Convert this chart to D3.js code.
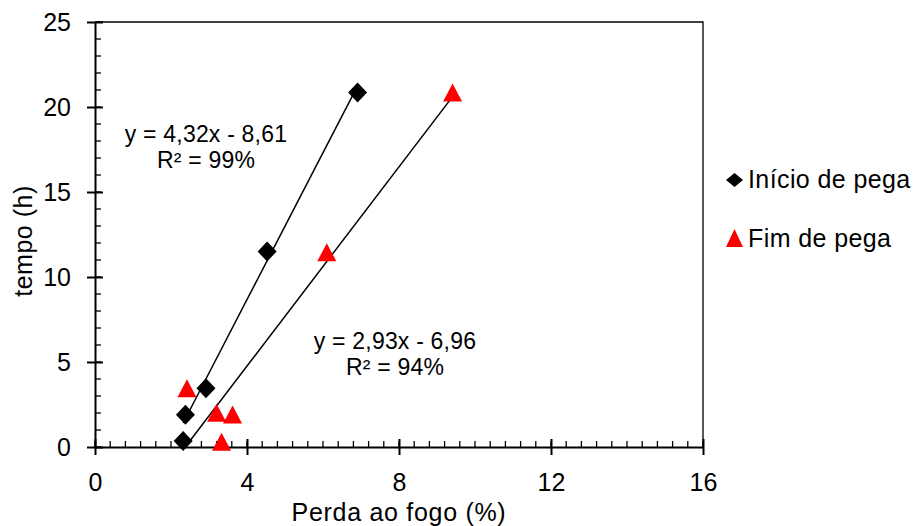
<!DOCTYPE html>
<html>
<head>
<meta charset="utf-8">
<script src="https://cdn.jsdelivr.net/npm/d3@7"></script>
<style>
  body { margin: 0; background: #fff; }
  text { font-family: "Liberation Sans", Arial, sans-serif; fill: #000; }
</style>
</head>
<body>
<div id="chart"></div>
<script>
// data
const inicioX = [2.32, 2.38, 2.92, 4.53, 6.91]
const inicioY = [0.35, 1.9, 3.45, 11.5, 20.85]
const fimX = [2.42, 3.2, 3.62, 3.33, 6.1, 9.41]
const fimY = [3.4, 1.95, 1.85, 0.25, 11.4, 20.8]
const seriesNames = ['Início de pega', 'Fim de pega']
const fitCoef = [[4.32, -8.61], [2.93, -6.96]]
const fitLabels = [['y = 4,32x - 8,61', 'R² = 99%'], ['y = 2,93x - 6,96', 'R² = 94%']]
const xTicks = [0, 4, 8, 12, 16]
const yTicks = [0, 5, 10, 15, 20, 25]

const width = 915
const height = 526
const margin = {top: 22, right: 212, bottom: 79, left: 95}
const chartWidth = width - margin.left - margin.right
const chartHeight = height - margin.top - margin.bottom
const fontFamily = '"Liberation Sans", Arial, sans-serif'

const svg = d3.select('#chart')
  .append('svg')
    .attr('width', width)
    .attr('height', height)
  .append('g')
    .attr('transform', 'translate(' + margin.left + ',' + margin.top + ')')

const xScale = d3.scaleLinear().domain([0, 16]).range([0, chartWidth])
const yScale = d3.scaleLinear().domain([0, 25]).range([chartHeight, 0])

// frame (top and right)
svg.append('path')
  .attr('d', 'M0,0H' + chartWidth + 'V' + chartHeight)
  .attr('fill', 'none')
  .attr('stroke', '#000')
  .attr('stroke-width', 1.3)

// minor ticks, pointing inward
const xMinor = d3.range(0, 16.001, 0.4)
const yMinor = d3.range(0, 25.001, 1)
svg.append('g').selectAll('line')
  .data(xMinor)
  .join('line')
    .attr('x1', d => xScale(d)).attr('x2', d => xScale(d))
    .attr('y1', chartHeight).attr('y2', chartHeight - 6)
    .attr('stroke', '#000').attr('stroke-width', 1.3)
svg.append('g').selectAll('line')
  .data(yMinor)
  .join('line')
    .attr('x1', 0).attr('x2', 6)
    .attr('y1', d => yScale(d)).attr('y2', d => yScale(d))
    .attr('stroke', '#000').attr('stroke-width', 1.3)

// axes
const xAxis = svg.append('g')
  .attr('transform', 'translate(0,' + chartHeight + ')')
  .call(d3.axisBottom(xScale).tickValues(xTicks).tickSize(8).tickSizeOuter(0))
xAxis.selectAll('.tick line').attr('y1', -8).attr('stroke-width', 2)
xAxis.select('.domain').attr('stroke-width', 2)
xAxis.selectAll('.tick text')
  .attr('y', 0)
  .attr('dy', 44)
  .style('font-size', '25px')
  .style('font-family', fontFamily)

const yAxis = svg.append('g')
  .call(d3.axisLeft(yScale).tickValues(yTicks).tickSize(8).tickSizeOuter(0))
yAxis.selectAll('.tick line').attr('x1', 8).attr('stroke-width', 2)
yAxis.select('.domain').attr('stroke-width', 2)
yAxis.selectAll('.tick text')
  .attr('x', -24)
  .attr('dy', '0.34em')
  .style('font-size', '25px')
  .style('font-family', fontFamily)

// axis titles
svg.append('text')
  .attr('x', chartWidth / 2)
  .attr('y', 521 - margin.top)
  .attr('text-anchor', 'middle')
  .style('font-size', '25px')
  .style('letter-spacing', '0.7px')
  .text('Perda ao fogo (%)')

svg.append('text')
  .attr('transform', 'translate(' + (32 - margin.left) + ',' + (241 - margin.top) + ') rotate(-90)')
  .attr('text-anchor', 'middle')
  .style('font-size', '25px')
  .style('letter-spacing', '0.5px')
  .text('tempo (h)')

// regression lines
const seriesX = [inicioX, fimX]
seriesX.forEach((xs, i) => {
  const [a, b] = fitCoef[i]
  const x0 = d3.min(xs)
  const x1 = d3.max(xs)
  svg.append('line')
    .attr('x1', xScale(x0)).attr('y1', yScale(a * x0 + b))
    .attr('x2', xScale(x1)).attr('y2', yScale(a * x1 + b))
    .attr('stroke', '#000')
    .attr('stroke-width', 1.5)
})

// markers
const diamond = 'M0,-10L9.5,0L0,10L-9.5,0Z'
const triangle = 'M0,-10L9.5,8L-9.5,8Z'

svg.append('g').selectAll('path')
  .data(d3.zip(fimX, fimY))
  .join('path')
    .attr('transform', d => 'translate(' + xScale(d[0]) + ',' + yScale(d[1]) + ')')
    .attr('d', triangle)
    .attr('fill', '#ff0000')

svg.append('g').selectAll('path')
  .data(d3.zip(inicioX, inicioY))
  .join('path')
    .attr('transform', d => 'translate(' + xScale(d[0]) + ',' + yScale(d[1]) + ')')
    .attr('d', diamond)
    .attr('fill', '#000')

// equation labels (positions in page pixels)
const labelPos = [[206, 142], [395, 349]]
fitLabels.forEach((lines, i) => {
  lines.forEach((t, j) => {
    svg.append('text')
      .attr('x', labelPos[i][0] - margin.left)
      .attr('y', labelPos[i][1] - margin.top + j * 26)
      .attr('text-anchor', 'middle')
      .style('font-size', '23px')
      .style('letter-spacing', '0.2px')
      .text(t)
  })
})

// legend
const legend = svg.append('g').attr('transform', 'translate(' + (734.5 - margin.left) + ',' + (180 - margin.top) + ')')
const legendShapes = ['M0,-7L8.5,0L0,7L-8.5,0Z', 'M0,-10L8.5,8L-8.5,8Z']
const legendFill = ['#000', '#ff0000']
seriesNames.forEach((name, i) => {
  const row = legend.append('g').attr('transform', 'translate(0,' + (i * 59) + ')')
  row.append('path')
    .attr('d', legendShapes[i])
    .attr('fill', legendFill[i])
  row.append('text')
    .attr('x', 13.5)
    .attr('y', 8)
    .style('font-size', '25px')
    .style('letter-spacing', '0.4px')
    .text(name)
})
</script>
</body>
</html>
